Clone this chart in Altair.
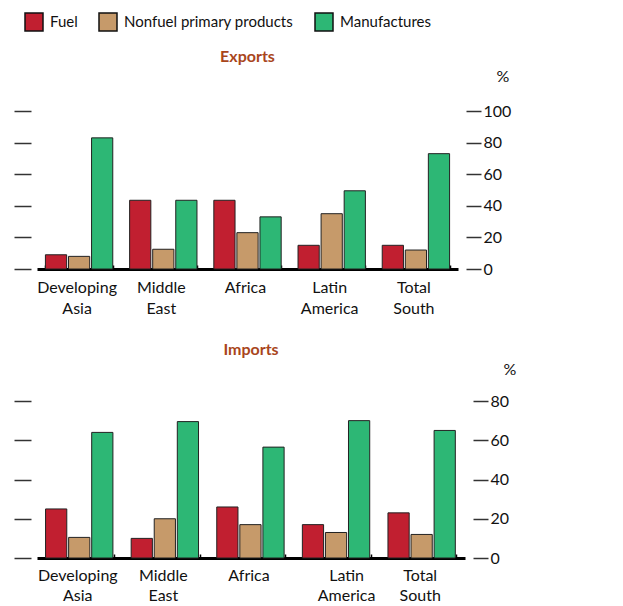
import altair as alt
import pandas as pd

regions = ["Developing Asia", "Middle East", "Africa", "Latin America", "Total South"]
series = ["Fuel", "Nonfuel primary products", "Manufactures"]
colors = ["#C11F30", "#C69A6A", "#2DB775"]

exports_fuel = [9, 43.5, 43.5, 15, 15]
exports_nonfuel = [8, 12.5, 23, 35, 12]
exports_manuf = [83, 43.5, 33, 49.5, 73]

imports_fuel = [25, 10, 26, 17, 23]
imports_nonfuel = [10.5, 20, 17, 13, 12]
imports_manuf = [64, 69.5, 56.5, 70, 65]

export_ticks = [0, 20, 40, 60, 80, 100]
import_ticks = [0, 20, 40, 60, 80]

FONT = "Lato"


def make_df(fuel, nonfuel, manuf):
    rows = []
    for i, r in enumerate(regions):
        for s, vals in zip(series, [fuel, nonfuel, manuf]):
            rows.append({"Region": r, "Series": s, "Value": vals[i]})
    return pd.DataFrame(rows)


def panel(df, title, width, height, dmax, ticks, right_offset, title_y, latin_shift,
          label_pad, line_h):
    xscale = alt.Scale(domain=regions, paddingInner=0.2, paddingOuter=0.1)
    xoff = alt.XOffset("Series:N", sort=series, scale=alt.Scale(domain=series, paddingInner=0.08))
    yscale = alt.Scale(domain=[0, dmax], nice=False)

    bars = alt.Chart(df).mark_bar(stroke="#222222", strokeWidth=1).encode(
        x=alt.X("Region:N", sort=regions, scale=xscale,
                axis=alt.Axis(orient="bottom", title=None, labelAngle=0,
                              labelExpr="split(datum.label, ' ')",
                              labelFont=FONT, labelFontSize=16, labelColor="#111111",
                              labelPadding=label_pad, ticks=False, domainColor="#000000",
                              domainWidth=3, labelLineHeight=line_h, grid=False,
                              labelOffset={"condition": {"test": "datum.value == 'Latin America'",
                                                         "value": latin_shift},
                                           "value": -2})),
        xOffset=xoff,
        y=alt.Y("Value:Q", scale=yscale,
                axis=alt.Axis(orient="left", values=ticks, labels=False, domain=False,
                              title=None, offset=6, tickSize=17, tickWidth=1.5,
                              tickColor="#333333", grid=False)),
        color=alt.Color("Series:N", sort=series,
                        scale=alt.Scale(domain=series, range=colors),
                        legend=alt.Legend(title=None, orient="none", direction="horizontal",
                                          legendX=-13, legendY=-99)),
    )

    ghost = alt.Chart(df).mark_bar(opacity=0).encode(
        x=alt.X("Region:N", sort=regions, scale=xscale,
                axis=alt.Axis(orient="top", offset=-height, labels=False, domain=False,
                              title=None, tickBand="extent", tickSize=4, tickWidth=1.5,
                              tickColor="#000000", grid=False)),
        xOffset=xoff,
        y=alt.Y("Value:Q", scale=yscale,
                axis=alt.Axis(orient="right", values=ticks, domain=False,
                              title="%", titleAngle=0, titleAlign="left",
                              titleX=30, titleY=title_y, titleBaseline="middle",
                              titleFont=FONT, titleFontSize=16, titleFontWeight="normal",
                              titleColor="#111111",
                              offset=right_offset, tickSize=15, tickWidth=1.5,
                              tickColor="#333333", labelPadding=2,
                              labelFont=FONT, labelFontSize=16, labelColor="#111111",
                              grid=False)),
    )

    return alt.layer(bars, ghost).resolve_axis(x="independent", y="independent").properties(
        width=width, height=height,
        title=alt.TitleParams(title, font=FONT, fontSize=16, fontWeight="bold",
                              color="#A9461C", anchor="middle", offset=3),
    )


exp_chart = panel(make_df(exports_fuel, exports_nonfuel, exports_manuf),
                  "Exports", 421, 158, 100, export_ticks, 8, -35, -2, 10, 21)
imp_chart = panel(make_df(imports_fuel, imports_nonfuel, imports_manuf),
                  "Imports", 428, 157, 80, import_ticks, 8, -32, 10, 9, 20)

chart = alt.vconcat(
    exp_chart, imp_chart, spacing=26,
    padding={"left": 5, "top": 4, "right": 5, "bottom": 2},
).configure_view(
    stroke=None
).configure_legend(
    labelFont=FONT, labelFontSize=15, labelLimit=0,
    labelColor="#111111", symbolType="square", symbolSize=324,
    symbolStrokeColor="#111111", symbolStrokeWidth=1.5, symbolOpacity=1,
    columnPadding=18, labelOffset=6,
)

chart.save("out.html", embed_options={"renderer": "svg", "actions": False})
